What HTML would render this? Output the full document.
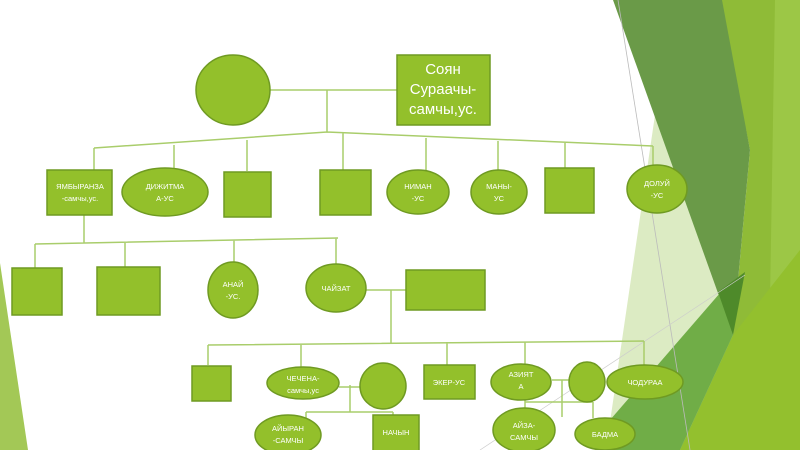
<!DOCTYPE html>
<html><head><meta charset="utf-8"><style>
html,body{margin:0;padding:0;background:#fff;}
svg{display:block;}
text{font-family:"Liberation Sans","DejaVu Sans",sans-serif;fill:#fff;font-size:7.5px;text-anchor:middle;}
.n{fill:#93c02b;stroke:#6f9a22;stroke-width:1.5;}
.l{stroke:#a9cd6b;stroke-width:1.5;fill:none;}
</style></head><body>
<svg width="800" height="450" viewBox="0 0 800 450" xmlns="http://www.w3.org/2000/svg">
<!-- background -->
<polygon points="0,263 28,450 0,450" fill="#a3c856"/>
<polygon points="655,115 722,293 610,422" fill="#dcebc3"/>
<polygon points="720,0 800,0 800,450 680,450 733,335 750,150" fill="#8fbb37"/>
<polygon points="775,0 800,0 800,450 770,300" fill="#9cc746"/>
<polygon points="733,335 800,250 800,450 680,450" fill="#93c02e"/>
<polygon points="613,0 722,0 750,150 733,335" fill="#6a9a48"/>
<polygon points="600,450 610,420 720,293 733,335 680,450" fill="#70ad47"/>
<polygon points="718,292 745,272 733,335" fill="#4e8a2a"/>
<line x1="618" y1="0" x2="690" y2="450" stroke="#bbb" stroke-width="0.8"/>
<line x1="480" y1="450" x2="745" y2="275" stroke="#ccc" stroke-width="0.7"/>
<!-- lines -->
<path class="l" d="M270,90 H397 M327,90 V132 M327,132 L94,148 M327,132 L653,146 M94,148 V170 M174,145 V168 M247,140 V171 M343,132 V170 M426,138 V170 M498,141 V170 M565,143 V168 M653,146 V166"/>
<path class="l" d="M84,215 V243 M35,244 L338,238 M35,244 V268 M125,242 V268 M234,240 V263 M336,238 V264"/>
<path class="l" d="M366,290 H406 M391,290 V343 M208,345 L644,341 M208,345 V365 M301,344 V368 M447,342 V365 M525,342 V364 M644,341 V365"/>
<path class="l" d="M339,387 H360 M350,385 V412 M306,412 H393 M306,412 V418 M393,412 V418"/>
<path class="l" d="M552,380 H569 M562,380 V417 M525,402 H593 M525,400 V408 M593,402 V418"/>
<!-- top -->
<ellipse class="n" cx="233" cy="90" rx="37" ry="35"/>
<rect class="n" x="397" y="55" width="93" height="70"/>
<text x="443" y="74" style="font-size:15px">Соян</text>
<text x="443" y="94" style="font-size:15px">Сураачы-</text>
<text x="443" y="114" style="font-size:15px">самчы,ус.</text>
<!-- row 2 -->
<rect class="n" x="47" y="170" width="65" height="45"/>
<text x="80" y="189">ЯМБЫРАНЗА</text><text x="80" y="201">-самчы,ус.</text>
<ellipse class="n" cx="165" cy="192" rx="43" ry="24"/>
<text x="165" y="189">ДИЖИТМА</text><text x="165" y="201">А-УС</text>
<rect class="n" x="224" y="172" width="47" height="45"/>
<rect class="n" x="320" y="170" width="51" height="45"/>
<ellipse class="n" cx="418" cy="192" rx="31" ry="22"/>
<text x="418" y="189">НИМАН</text><text x="418" y="201">-УС</text>
<ellipse class="n" cx="499" cy="192" rx="28" ry="22"/>
<text x="499" y="189">МАНЫ-</text><text x="499" y="201">УС</text>
<rect class="n" x="545" y="168" width="49" height="45"/>
<ellipse class="n" cx="657" cy="189" rx="30" ry="24"/>
<text x="657" y="186">ДОЛУЙ</text><text x="657" y="198">-УС</text>
<!-- row 3 -->
<rect class="n" x="12" y="268" width="50" height="47"/>
<rect class="n" x="97" y="267" width="63" height="48"/>
<ellipse class="n" cx="233" cy="290" rx="25" ry="28"/>
<text x="233" y="287">АНАЙ</text><text x="233" y="299">-УС.</text>
<ellipse class="n" cx="336" cy="288" rx="30" ry="24"/>
<text x="336" y="291">ЧАЙЗАТ</text>
<rect class="n" x="406" y="270" width="79" height="40"/>
<!-- row 4 -->
<rect class="n" x="192" y="366" width="39" height="35"/>
<ellipse class="n" cx="303" cy="383" rx="36" ry="16"/>
<text x="303" y="381">ЧЕЧЕНА-</text><text x="303" y="393">самчы,ус</text>
<ellipse class="n" cx="383" cy="386" rx="23" ry="23"/>
<rect class="n" x="424" y="365" width="51" height="34"/>
<text x="449" y="385">ЭКЕР-УС</text>
<ellipse class="n" cx="521" cy="382" rx="30" ry="18"/>
<text x="521" y="377">АЗИЯТ</text><text x="521" y="389">А</text>
<ellipse class="n" cx="587" cy="382" rx="18" ry="20"/>
<ellipse class="n" cx="645" cy="382" rx="38" ry="17"/>
<text x="645" y="385">ЧОДУРАА</text>
<!-- row 5 -->
<ellipse class="n" cx="288" cy="435" rx="33" ry="20"/>
<text x="288" y="431">АЙЫРАН</text><text x="288" y="443">-САМЧЫ</text>
<rect class="n" x="373" y="415" width="46" height="40"/>
<text x="396" y="435">НАЧЫН</text>
<ellipse class="n" cx="524" cy="430" rx="31" ry="22"/>
<text x="524" y="428">АЙЗА-</text><text x="524" y="440">САМЧЫ</text>
<ellipse class="n" cx="605" cy="434" rx="30" ry="16"/>
<text x="605" y="437">БАДМА</text>
</svg>
</body></html>
